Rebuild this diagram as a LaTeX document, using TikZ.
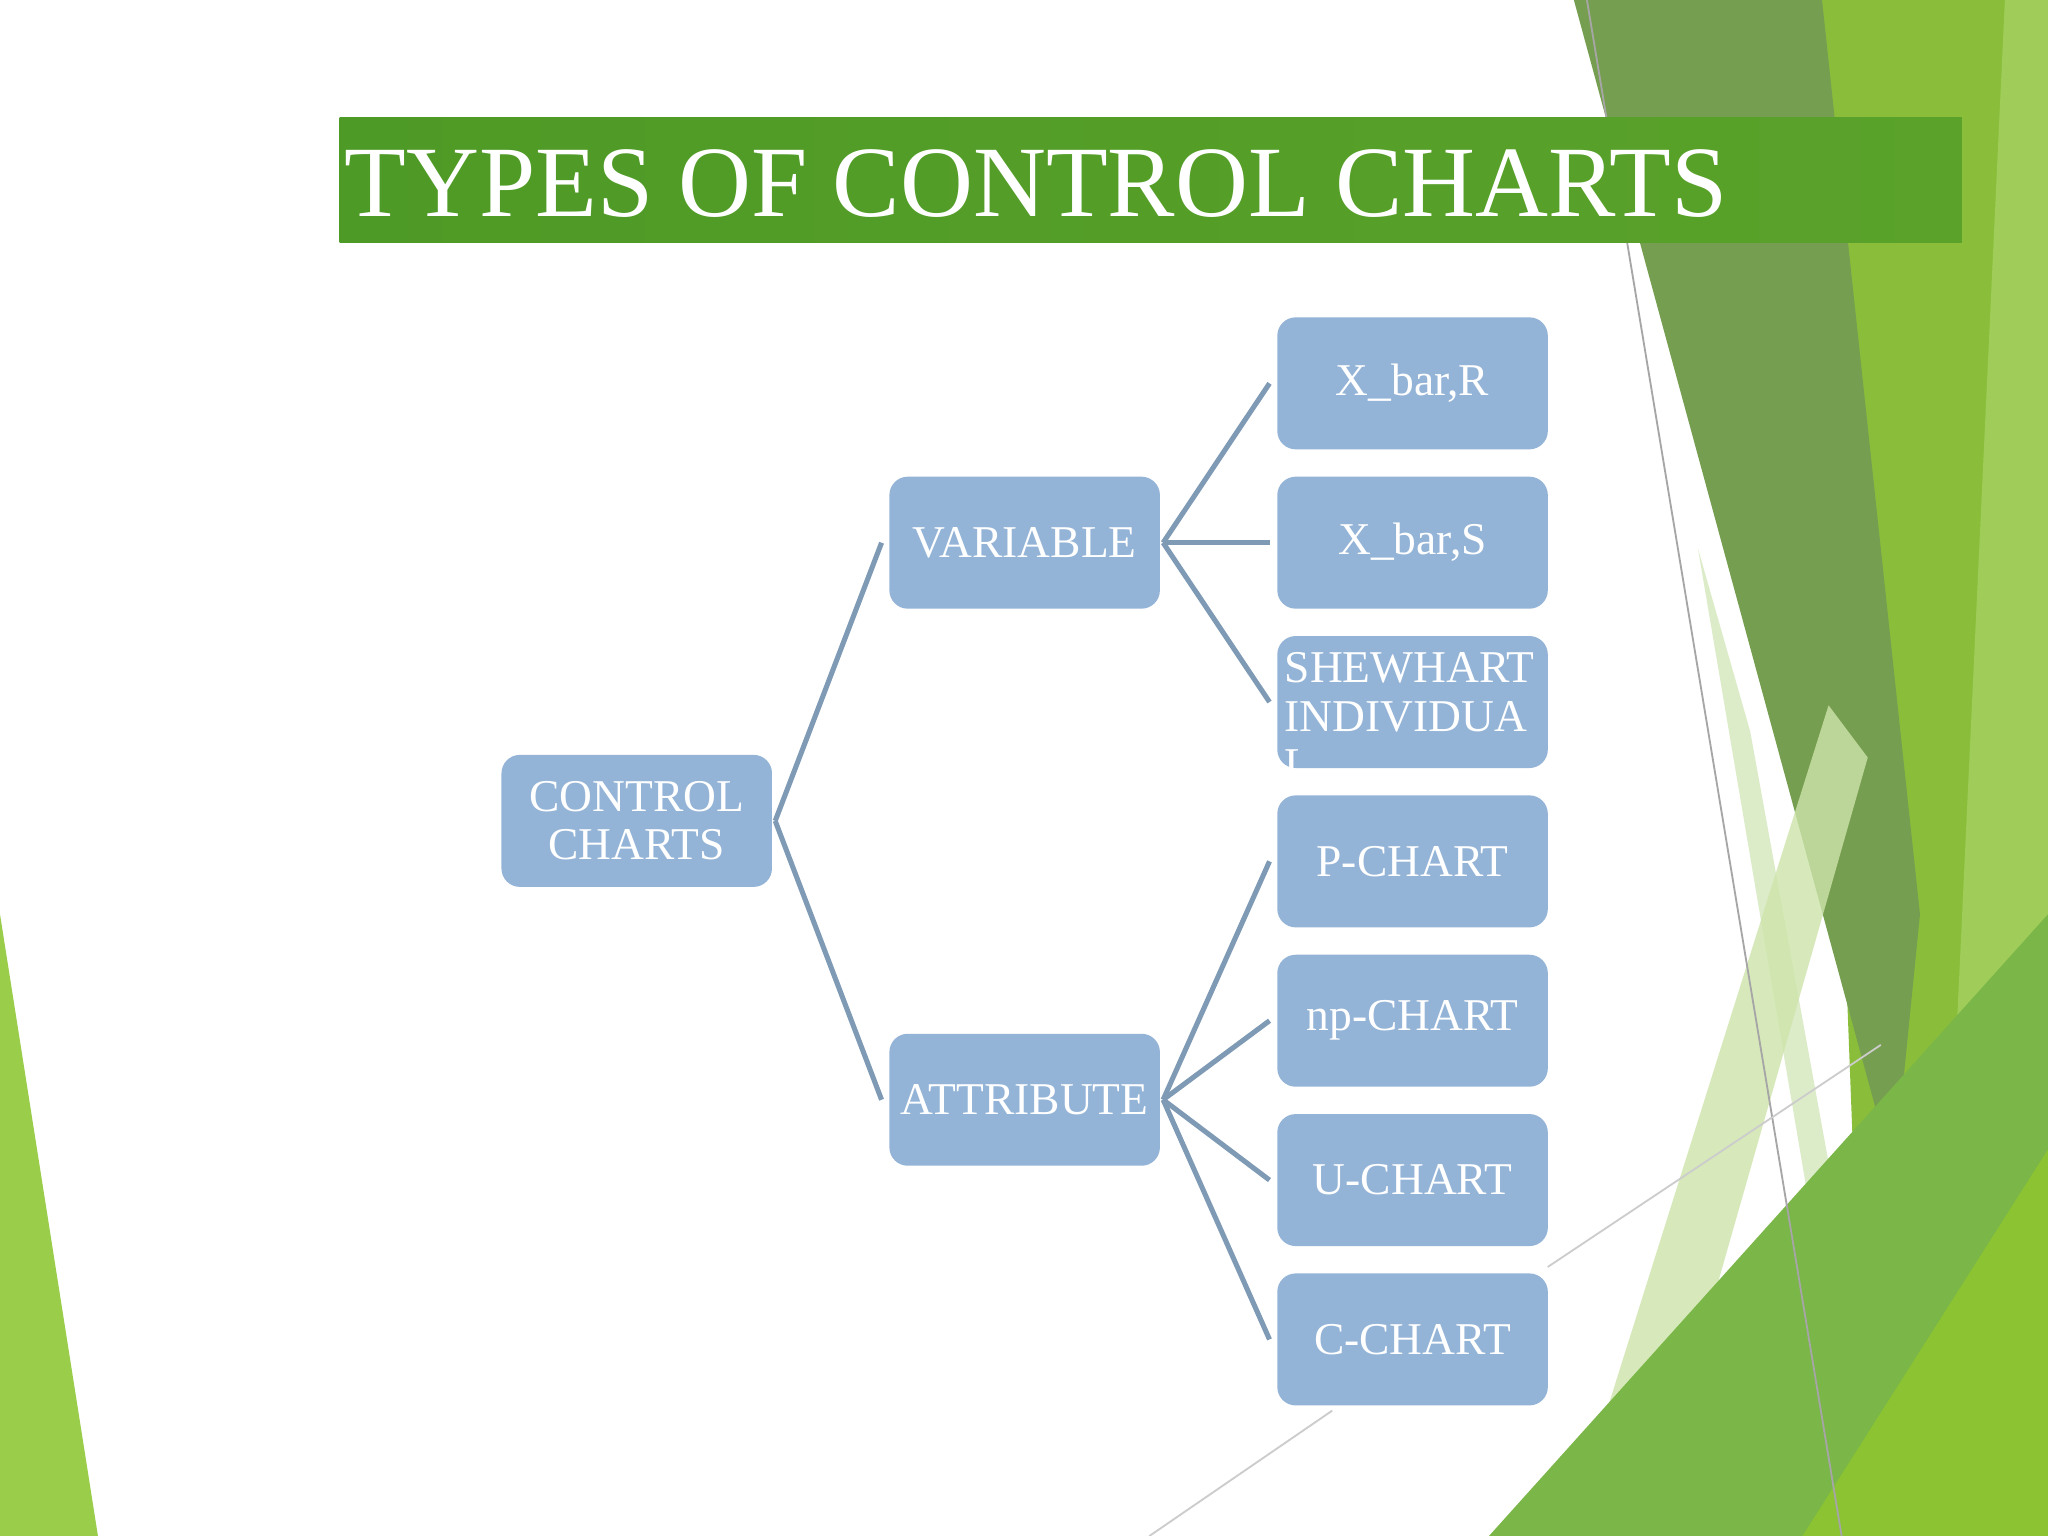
\documentclass[tikz,border=0pt]{standalone}
\usepackage{fontspec}
\setmainfont{Liberation Serif}
\begin{document}
\begin{tikzpicture}[x=0.01cm,y=-0.01cm,
  bx/.style={draw=none,fill=boxblue,rounded corners=4pt,minimum width=2.07cm,minimum height=1.01cm,text=white,font=\fontsize{9.9}{11.5}\selectfont,align=center,inner sep=1pt},
  ln/.style={draw=lnblue,line width=1.1pt}]
\definecolor{boxblue}{HTML}{94B4D7}
\definecolor{lnblue}{HTML}{7F9AB5}
\useasboundingbox (0,0) rectangle (1568,1176);
\fill[white] (0,0) rectangle (1568,1176);
% decorations
\fill[color={rgb,255:red,138;green,190;blue,58}] (1385,0)--(1568,0)--(1568,1176)--(1430,1176)--cycle;
\fill[color={rgb,255:red,118;green,158;blue,80}] (1205,0)--(1395,0)--(1470,700)--(1450,900)--cycle;
\fill[color={rgb,255:red,220;green,236;blue,200}] (1300,420)--(1340,560)--(1420,1000)--(1400,1010)--cycle;
\fill[color={rgb,255:red,160;green,205;blue,90}] (1535,0)--(1568,0)--(1568,1176)--(1480,1176)--cycle;
\fill[color={rgb,255:red,205;green,228;blue,170},opacity=0.8] (1400,540)--(1430,580)--(1260,1176)--(1200,1176)--cycle;
\fill[color={rgb,255:red,122;green,182;blue,72}] (1140,1176)--(1568,700)--(1568,1176)--cycle;
\fill[color={rgb,255:red,140;green,195;blue,50}] (1380,1176)--(1568,880)--(1568,1176)--cycle;
\fill[color={rgb,255:red,154;green,205;blue,74}] (0,700)--(75,1176)--(0,1176)--cycle;
\draw[gray!70,line width=0.4pt] (1215,0)--(1410,1176);
\draw[gray!40,line width=0.4pt] (880,1176)--(1020,1080);
\draw[gray!40,line width=0.4pt] (1185,970)--(1440,800);
% title
\shade[left color={rgb,255:red,78;green,154;blue,38},right color={rgb,255:red,90;green,162;blue,42}] (260,90) rectangle (1502,186);
\node[anchor=base west,text=white,font=\fontsize{22}{26}\selectfont,inner sep=0] (title) at (263,166) {TYPES OF CONTROL CHARTS};
% nodes
\node[bx] (cc) at (487.5,628.5) {CONTROL\\[-1pt]CHARTS};
\node[bx] (var) at (784.5,415.5) {VARIABLE};
\node[bx] (att) at (784.5,842) {ATTRIBUTE};
\node[bx] (r1) at (1081.5,293.5) {X\_bar,R};
\node[bx] (r2) at (1081.5,415.5) {X\_bar,S};
\node[bx] (r3) at (1081.5,537.5) {};
\begin{scope}
\clip[rounded corners=4pt] (978,487) rectangle (1185,588);
\node[text=white,font=\fontsize{9.9}{11.5}\selectfont,align=left,anchor=north west,inner sep=0] (r3t) at (983,499) {SHEWHART\\[-1pt]INDIVIDUA\\[-1pt]L};
\end{scope}
\node[bx] (r4) at (1081.5,659.5) {P-CHART};
\node[bx] (r5) at (1081.5,781.5) {np-CHART};
\node[bx] (r6) at (1081.5,903.5) {U-CHART};
\node[bx] (r7) at (1081.5,1025.5) {C-CHART};
% connectors
\draw[ln] ([xshift=0.5pt]cc.east) -- ([xshift=-1.5pt]var.west);
\draw[ln] ([xshift=0.5pt]cc.east) -- ([xshift=-1.5pt]att.west);
\foreach \t in {r1,r2,r3}{\draw[ln] ([xshift=0.5pt]var.east) -- ([xshift=-1.5pt]\t.west);}
\foreach \t in {r4,r5,r6,r7}{\draw[ln] ([xshift=0.5pt]att.east) -- ([xshift=-1.5pt]\t.west);}
\end{tikzpicture}
\end{document}
